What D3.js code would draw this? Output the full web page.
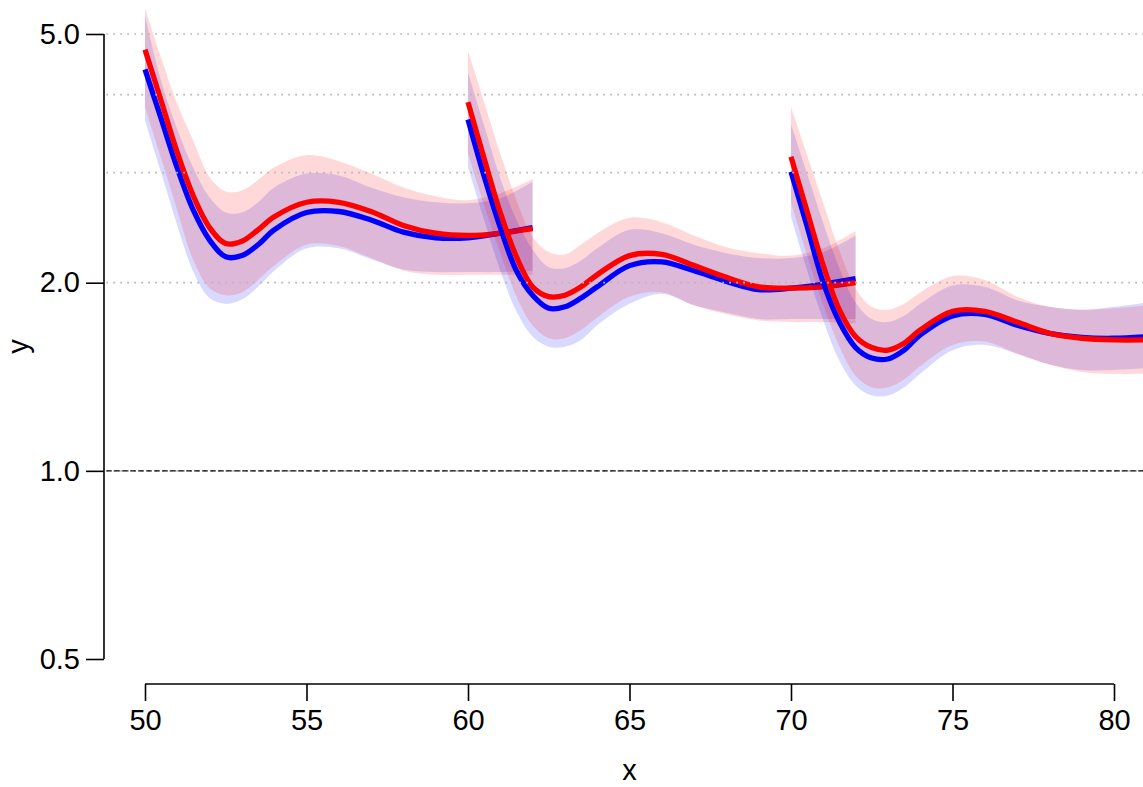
<!DOCTYPE html>
<html>
<head>
<meta charset="utf-8">
<script src="https://cdn.jsdelivr.net/npm/d3@7"></script>
<style>
  html, body { margin: 0; padding: 0; background: #fff; }
  svg { display: block; }
  text { font-family: "Liberation Sans", Arial, Helvetica, sans-serif; fill: #000; }
</style>
</head>
<body>
<svg id="chart" width="1143" height="787"></svg>
<script>
// ---------- data ----------
const yTicks = [0.5, 1.0, 2.0, 5.0];
const yTickLabels = ["0.5", "1.0", "2.0", "5.0"];
const xTicks = [50, 55, 60, 65, 70, 75, 80];
const gridValues = [1, 2, 3, 4, 5];
const refLine = 1.0;

// Segment A
const segA_x       = [50, 50.5, 51, 51.5, 52, 52.5, 53, 53.5, 54, 55, 56, 57, 58, 59, 60, 61, 62];
const segA_redMid  = [4.72, 3.91, 3.23, 2.75, 2.45, 2.31, 2.33, 2.43, 2.55, 2.69, 2.69, 2.60, 2.47, 2.40, 2.38, 2.40, 2.44];
const segA_blueMid = [4.39, 3.66, 3.05, 2.61, 2.34, 2.20, 2.21, 2.30, 2.43, 2.59, 2.60, 2.52, 2.41, 2.36, 2.36, 2.40, 2.45];
const segA_redHi   = [5.50, 4.58, 3.86, 3.37, 2.95, 2.80, 2.81, 2.92, 3.06, 3.20, 3.13, 2.99, 2.84, 2.75, 2.71, 2.78, 2.93];
const segA_blueHi  = [5.35, 4.21, 3.52, 3.05, 2.74, 2.59, 2.59, 2.69, 2.84, 2.99, 2.97, 2.84, 2.74, 2.69, 2.68, 2.73, 2.90];
const segA_redLo   = [3.82, 3.16, 2.61, 2.17, 1.96, 1.91, 1.93, 2.02, 2.13, 2.30, 2.29, 2.19, 2.09, 2.06, 2.06, 2.06, 2.06];
const segA_blueLo  = [3.64, 3.00, 2.47, 2.08, 1.89, 1.85, 1.88, 1.97, 2.09, 2.27, 2.27, 2.18, 2.10, 2.08, 2.08, 2.08, 2.09];

// Segment B
const segB_x       = [60, 60.5, 61, 61.5, 62, 62.5, 63, 63.5, 64, 65, 66, 67, 68, 69, 70, 71, 72];
const segB_redMid  = [3.89, 3.16, 2.59, 2.20, 1.97, 1.90, 1.91, 1.97, 2.06, 2.21, 2.22, 2.13, 2.04, 1.97, 1.96, 1.97, 2.00];
const segB_blueMid = [3.65, 2.96, 2.45, 2.09, 1.91, 1.82, 1.83, 1.89, 1.97, 2.13, 2.16, 2.09, 2.01, 1.95, 1.96, 1.99, 2.03];
const segB_redHi   = [4.70, 3.89, 3.22, 2.71, 2.37, 2.24, 2.22, 2.30, 2.40, 2.54, 2.50, 2.38, 2.28, 2.23, 2.21, 2.27, 2.42];
const segB_blueHi  = [4.34, 3.57, 2.94, 2.52, 2.26, 2.12, 2.11, 2.17, 2.27, 2.43, 2.40, 2.30, 2.23, 2.19, 2.19, 2.24, 2.38];
const segB_redLo   = [3.22, 2.66, 2.23, 1.90, 1.71, 1.63, 1.63, 1.68, 1.76, 1.90, 1.93, 1.84, 1.78, 1.74, 1.73, 1.73, 1.72];
const segB_blueLo  = [3.06, 2.52, 2.09, 1.80, 1.64, 1.58, 1.58, 1.62, 1.71, 1.85, 1.92, 1.84, 1.79, 1.75, 1.75, 1.75, 1.75];

// Segment C
const segC_x       = [70, 70.5, 71, 71.5, 72, 72.5, 73, 73.5, 74, 75, 76, 77, 78, 79, 80, 81];
const segC_redMid  = [3.18, 2.60, 2.13, 1.81, 1.64, 1.575, 1.56, 1.60, 1.68, 1.80, 1.80, 1.73, 1.66, 1.63, 1.62, 1.62];
const segC_blueMid = [3.01, 2.46, 2.00, 1.73, 1.575, 1.515, 1.51, 1.56, 1.65, 1.77, 1.78, 1.71, 1.66, 1.635, 1.63, 1.64];
const segC_redHi   = [3.82, 3.20, 2.68, 2.25, 1.96, 1.83, 1.81, 1.85, 1.93, 2.05, 2.02, 1.90, 1.83, 1.81, 1.82, 1.84];
const segC_blueHi  = [3.59, 2.99, 2.49, 2.11, 1.86, 1.75, 1.73, 1.77, 1.85, 1.98, 1.97, 1.875, 1.83, 1.81, 1.83, 1.86];
const segC_redLo   = [2.69, 2.21, 1.84, 1.58, 1.42, 1.36, 1.36, 1.40, 1.47, 1.59, 1.61, 1.54, 1.48, 1.44, 1.43, 1.43];
const segC_blueLo  = [2.55, 2.09, 1.74, 1.50, 1.37, 1.32, 1.32, 1.36, 1.43, 1.56, 1.59, 1.54, 1.48, 1.45, 1.45, 1.46];

const segments = [
  {x: segA_x, redMid: segA_redMid, blueMid: segA_blueMid, redHi: segA_redHi, blueHi: segA_blueHi, redLo: segA_redLo, blueLo: segA_blueLo},
  {x: segB_x, redMid: segB_redMid, blueMid: segB_blueMid, redHi: segB_redHi, blueHi: segB_blueHi, redLo: segB_redLo, blueLo: segB_blueLo},
  {x: segC_x, redMid: segC_redMid, blueMid: segC_blueMid, redHi: segC_redHi, blueHi: segC_blueHi, redLo: segC_redLo, blueLo: segC_blueLo}
];

// ---------- layout ----------
const svg = d3.select("#chart");
const x = d3.scaleLinear().domain([50, 80]).range([145, 1114]);
const y = d3.scaleLog().domain([0.5, 5]).range([659, 34]);

const plotLeft = x(50 - 30 * 0.04), plotRight = x(80 + 30 * 0.04);
const logSpan = Math.log(10);
const plotTop = y(Math.exp(Math.log(5) + logSpan * 0.04));
const plotBottom = y(Math.exp(Math.log(0.5) - logSpan * 0.04));

svg.append("defs").append("clipPath").attr("id", "plotClip")
  .append("rect")
  .attr("x", plotLeft).attr("y", plotTop)
  .attr("width", plotRight - plotLeft).attr("height", plotBottom - plotTop);

const plot = svg.append("g").attr("clip-path", "url(#plotClip)");

const curve = d3.curveCatmullRom.alpha(0.5);

segments.forEach(seg => {
  const idx = d3.range(seg.x.length);
  const band = (lo, hi) => d3.area().curve(curve)
    .x(i => x(seg.x[i])).y0(i => y(lo[i])).y1(i => y(hi[i]));
  const line = mid => d3.line().curve(curve)
    .x(i => x(seg.x[i])).y(i => y(mid[i]));

  plot.append("path").attr("d", band(seg.blueLo, seg.blueHi)(idx))
    .attr("fill", "rgba(0,0,255,0.15)").attr("stroke", "none");
  plot.append("path").attr("d", band(seg.redLo, seg.redHi)(idx))
    .attr("fill", "rgba(255,0,0,0.15)").attr("stroke", "none");
  plot.append("path").attr("d", line(seg.blueMid)(idx))
    .attr("fill", "none").attr("stroke", "#0000FF").attr("stroke-width", 5.3);
  plot.append("path").attr("d", line(seg.redMid)(idx))
    .attr("fill", "none").attr("stroke", "#FF0000").attr("stroke-width", 5.3);
});

// grid lines (drawn on top, as in reference)
plot.selectAll("line.grid").data(gridValues).enter().append("line")
  .attr("class", "grid")
  .attr("x1", plotLeft).attr("x2", plotRight)
  .attr("y1", d => y(d)).attr("y2", d => y(d))
  .attr("stroke", "#B8B8B8").attr("stroke-width", 1.7)
  .attr("stroke-dasharray", "1.8,5.2");

// reference line at 1.0
plot.append("line")
  .attr("x1", plotLeft).attr("x2", plotRight)
  .attr("y1", y(refLine)).attr("y2", y(refLine))
  .attr("stroke", "#000").attr("stroke-width", 1.3)
  .attr("stroke-dasharray", "5.5,2.5");

// ---------- axes ----------
const yAxis = d3.axisLeft(y).tickValues(yTicks)
  .tickFormat((d, i) => yTickLabels[i]).tickSize(18).tickPadding(6);
const gy = svg.append("g").attr("transform", `translate(104,0)`).call(yAxis);
gy.select(".domain").attr("d", `M-0,${y(5)}V${y(0.5)}`).attr("stroke-width", 1.6);
gy.selectAll(".tick line").attr("stroke-width", 1.6);
gy.selectAll(".tick text").attr("font-size", 29).attr("font-family", "Liberation Sans, Arial, sans-serif");

const xAxis = d3.axisBottom(x).tickValues(xTicks).tickFormat(d3.format("d")).tickSize(17).tickPadding(8);
const gx = svg.append("g").attr("transform", `translate(0,684)`).call(xAxis);
gx.select(".domain").attr("d", `M${x(50)},0H${x(80)}`).attr("stroke-width", 1.6);
gx.selectAll(".tick line").attr("stroke-width", 1.6);
gx.selectAll(".tick text").attr("font-size", 29).attr("font-family", "Liberation Sans, Arial, sans-serif");

// axis titles
svg.append("text").attr("x", (plotLeft + plotRight) / 2).attr("y", 780)
  .attr("text-anchor", "middle").attr("font-size", 29).text("x");
svg.append("text")
  .attr("transform", `translate(28,${(plotTop + plotBottom) / 2}) rotate(-90)`)
  .attr("text-anchor", "middle").attr("font-size", 29).text("y");
</script>
</body>
</html>
